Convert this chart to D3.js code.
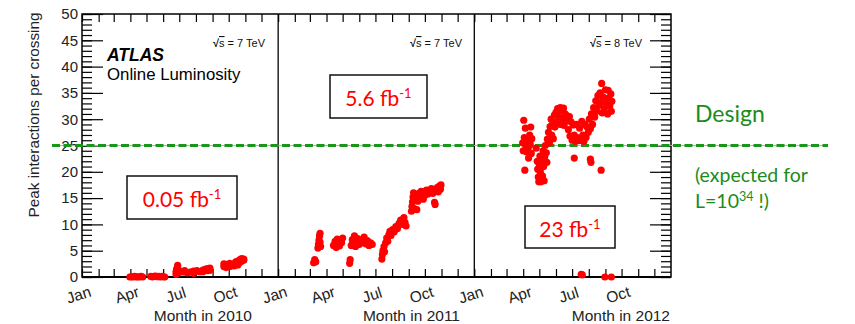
<!DOCTYPE html>
<html>
<head>
<meta charset="utf-8">
<script src="https://cdn.jsdelivr.net/npm/d3@7"></script>
<style>
  body { margin: 0; background: #fff; }
  svg { display: block; }
</style>
</head>
<body>
<div class="chart-area"></div>
<script>
// peak pile-up per bunch crossing, [day of year, value]
let data2010 = [
  [89,0],[92,0.05],[95,0],[98,0.1],[101,0],[104,0.05],[107,0],[110,0.1],[113,0],
  [128,0.1],[131,0],[134,0.1],[137,0.15],[140,0.05],[143,0.1],[146,0],[149,0.1],[152,0.05],[154,0],
  [175,0.5],[175,1.0],[176,1.5],[178,2.2],[178,1.8],[180,1.2],[180,0.8],[186,1.0],[191,0.9],[191,1.2],
  [197,0.8],[203,1.0],[208,1.1],[208,0.7],[214,1.2],[219,1.0],[225,1.3],[225,1.0],[230,1.5],[234,1.6],
  [234,1.2],[238,1.7],[238,1.3],
  [264,2.0],[264,2.5],[268,1.8],[268,2.4],[271,2.2],[275,2.0],[275,2.6],[279,2.3],[283,2.1],[286,2.6],
  [286,2.9],[290,3.0],[290,2.3],[294,3.3],[294,2.8],[297,3.5],[297,3.0],[301,3.2],[301,3.4]
];
let data2011 = [
  [66,2.7],[68,3.3],[70,2.9],
  [74,5.5],[75,6.2],[76,7.0],[77,7.8],[78,8.3],[78,6.6],[79,5.8],
  [103,6.0],[106,6.8],[108,5.6],[110,7.2],[112,6.4],[114,5.9],[116,7.0],[118,6.5],[120,7.4],
  [133,2.6],[134,3.3],
  [136,6.0],[138,7.1],[140,6.5],[142,7.8],[144,5.8],[146,6.8],[148,7.3],[151,6.2],[154,7.0],[157,6.6],
  [160,7.6],[163,6.3],[166,6.9],[169,6.0],[172,6.5],[175,6.2],
  [193,3.4],[194,4.3],[195,5.0],[197,5.8],[198,4.8],[200,6.5],[202,7.4],[204,6.8],[206,8.0],[208,8.7],
  [210,7.9],[213,9.0],[216,8.6],[219,9.6],[222,9.2],[225,10.2],[228,10.8],[231,10.0],[234,11.3],[236,10.4],[238,9.7],
  [248,12.5],[249,13.4],[250,14.3],[251,15.2],[252,16.0],[253,13.0],[255,14.8],[257,15.6],[258,12.8],[260,14.4],
  [262,15.9],[264,15.0],[266,16.3],[268,15.4],[270,14.8],[272,16.0],[274,15.6],[276,16.5],[279,15.8],[282,16.4],
  [285,16.8],[288,15.9],[291,14.2],[292,13.8],[294,16.5],[296,17.0],[298,16.2],[300,17.3],[302,16.7],[303,17.5]
];
let data2012 = [
  [90,25.5],[91,24.0],[92,29.8],[93,26.5],[94,20.3],[95,28.3],[96,25.0],[97,23.8],[99,26.0],[100,24.5],
  [101,22.6],[103,27.0],[104,25.2],[105,28.5],[106,23.5],[107,26.3],
  [115,24.5],[117,22.0],[118,20.5],[119,19.0],[120,18.1],[121,21.5],[122,23.0],[123,19.8],[124,18.1],[125,20.8],
  [126,22.2],[127,19.2],[128,24.0],[129,21.0],[130,18.3],[131,22.8],[132,25.0],[134,23.6],[135,21.8],
  [136,26.2],[138,27.5],[140,25.5],[141,28.6],[143,30.0],[144,27.0],[146,29.2],[147,26.3],[149,30.8],[150,28.5],
  [152,31.3],[153,29.5],
  [155,32.0],[157,30.5],[158,31.6],[160,32.2],[161,29.0],[163,31.8],[164,30.2],[166,32.1],[167,28.8],[169,31.0],
  [170,29.6],[172,30.7],
  [175,28.0],[177,30.5],[178,26.8],[180,29.5],[182,26.0],[184,28.9],[186,27.0],[188,25.8],[190,29.0],[192,26.5],
  [194,25.9],[196,28.3],[198,26.0],[200,29.6],[202,27.0],[204,25.8],[206,29.0],[208,26.5],[210,28.5],
  [186,22.6],[216,22.4],[217,21.8],[236,20.3],
  [212,27.5],[214,30.0],[216,28.2],[218,31.0],[220,29.0],[222,32.2],[224,30.4],[226,33.5],[228,31.5],[230,34.5],
  [232,32.6],[234,35.0],[236,33.2],[237,36.8],[238,31.2],[240,34.2],[242,32.0],[244,35.6],[246,33.0],[248,31.0],
  [249,35.5],[250,34.0],[252,32.5],[254,34.8],[255,31.5],[256,33.4],
  [199,0.5],[201,0.4],[243,0.0],[255,0.0]
];

let years = [2010, 2011, 2012];
let energies = ["7 TeV", "7 TeV", "8 TeV"];
let lumis = ["0.05", "5.6", "23"];
let designValue = 25;
let yMajorTicks = d3.range(0, 51, 5);
let yMinorTicks = d3.range(0, 51, 1);

let width = 855, height = 324;
let plotLeft = 82, plotRight = 671, plotTop = 14, plotBottom = 277;

let svg = d3.select('.chart-area').append('svg')
    .attr('width', width)
    .attr('height', height);

svg.append('rect').attr('width', width).attr('height', height).attr('fill', '#fff');

let xScale = d3.scaleTime()
    .domain([new Date(2010, 0, 1), new Date(2013, 0, 1)])
    .range([plotLeft, plotRight]);

let yScale = d3.scaleLinear()
    .domain([0, 50])
    .range([plotBottom, plotTop]);

let axisFont = "'Liberation Sans', Arial, sans-serif";
let noteFont = "Lato, 'Open Sans', sans-serif";

// y axis, major + minor ticks pointing into the frame
let yMajor = d3.axisLeft(yScale).tickValues(yMajorTicks).tickSize(-21).tickPadding(4);
let yMinor = d3.axisLeft(yScale).tickValues(yMinorTicks).tickSize(-10).tickFormat("");

let yaxis = svg.append('g').attr('transform', `translate(${plotLeft},0)`).call(yMajor);
svg.append('g').attr('transform', `translate(${plotLeft},0)`).call(yMinor);
yaxis.selectAll('text')
    .attr('font-family', axisFont)
    .attr('font-size', 15)
    .attr('fill', '#222');

svg.append('g').attr('transform', `translate(${plotRight},0)`)
    .call(d3.axisRight(yScale).tickValues(yMajorTicks).tickSize(-21).tickFormat(""));
svg.append('g').attr('transform', `translate(${plotRight},0)`)
    .call(d3.axisRight(yScale).tickValues(yMinorTicks).tickSize(-10).tickFormat(""));

// month ticks, top and bottom
let months = d3.timeMonth.range(new Date(2010, 0, 1), new Date(2013, 0, 1));
svg.append('g').attr('transform', `translate(0,${plotBottom})`)
    .call(d3.axisBottom(xScale).tickValues(months).tickSize(-8).tickFormat(""));
svg.append('g').attr('transform', `translate(0,${plotTop})`)
    .call(d3.axisTop(xScale).tickValues(months).tickSize(-8).tickFormat(""));

svg.selectAll('.domain').remove();
svg.selectAll('.tick line').attr('stroke', '#000').attr('stroke-width', 1.2);

// frame
svg.append('rect')
    .attr('x', plotLeft).attr('y', plotTop)
    .attr('width', plotRight - plotLeft).attr('height', plotBottom - plotTop)
    .attr('fill', 'none').attr('stroke', '#000').attr('stroke-width', 1.5);
svg.append('line')
    .attr('x1', plotLeft).attr('x2', plotRight).attr('y1', plotBottom).attr('y2', plotBottom)
    .attr('stroke', '#000').attr('stroke-width', 2.2);

// panel separators at each new year
svg.selectAll('line.sep')
    .data([new Date(2011, 0, 1), new Date(2012, 0, 1)])
    .enter()
    .append('line')
    .attr('class', 'sep')
    .attr('x1', d => xScale(d)).attr('x2', d => xScale(d))
    .attr('y1', plotTop).attr('y2', plotBottom)
    .attr('stroke', '#000').attr('stroke-width', 1.3);

// quarter labels, tilted
let quarters = d3.timeMonth.every(3).range(new Date(2010, 0, 1), new Date(2012, 11, 1));
let monthFormat = d3.timeFormat("%b");
svg.selectAll('text.month')
    .data(quarters)
    .enter()
    .append('text')
    .attr('class', 'month')
    .attr('transform', d => `translate(${xScale(d) - 3},296) rotate(-18)`)
    .attr('text-anchor', 'middle')
    .attr('dominant-baseline', 'middle')
    .attr('font-family', axisFont)
    .attr('font-size', 15.5)
    .attr('fill', '#222')
    .text(d => monthFormat(d));

// axis titles
let titleEnds = [252, 460, 670];
svg.selectAll('text.xtitle')
    .data(years)
    .enter()
    .append('text')
    .attr('class', 'xtitle')
    .attr('x', (d, i) => titleEnds[i])
    .attr('y', 321)
    .attr('text-anchor', 'end')
    .attr('font-family', axisFont)
    .attr('font-size', 15.5)
    .attr('fill', '#222')
    .text(d => "Month in " + d);

svg.append('text')
    .attr('transform', 'translate(35,115) rotate(-90)')
    .attr('text-anchor', 'middle')
    .attr('dominant-baseline', 'middle')
    .attr('font-family', axisFont)
    .attr('font-size', 15.3)
    .attr('fill', '#222')
    .text("Peak interactions per crossing");

// ATLAS label
svg.append('text')
    .attr('x', 107).attr('y', 61)
    .attr('font-family', axisFont)
    .attr('font-size', 17.5)
    .attr('font-weight', 'bold')
    .attr('font-style', 'italic')
    .text("ATLAS");
svg.append('text')
    .attr('x', 107).attr('y', 80)
    .attr('font-family', axisFont)
    .attr('font-size', 16.8)
    .text("Online Luminosity");

// sqrt(s) labels
let energyRight = [265, 462, 642];
years.forEach((yr, i) => {
  let t = svg.append('text')
      .attr('x', energyRight[i]).attr('y', 47)
      .attr('text-anchor', 'end')
      .attr('font-family', axisFont)
      .attr('font-size', 11)
      .attr('fill', '#111');
  t.append('tspan').attr('font-weight', 'bold').text("\u221A");
  t.append('tspan').attr('text-decoration', 'overline').text("s");
  t.append('tspan').text(" = " + energies[i]);
});

// green design line
let designY = yScale(designValue);
svg.append('line')
    .attr('x1', 52).attr('x2', 828).attr('y1', designY).attr('y2', designY)
    .attr('stroke', '#9fb6d6').attr('stroke-width', 1);
svg.append('line')
    .attr('x1', 52).attr('x2', 828).attr('y1', designY).attr('y2', designY)
    .attr('stroke', '#1a961a').attr('stroke-width', 3)
    .attr('stroke-dasharray', '8,3.5');

// data points
let allData = [data2010, data2011, data2012];
allData.forEach((arr, i) => {
  let start = new Date(years[i], 0, 1);
  svg.append('g').selectAll('circle')
      .data(arr)
      .enter()
      .append('circle')
      .attr('cx', d => xScale(d3.timeDay.offset(start, d[0])))
      .attr('cy', d => yScale(d[1]))
      .attr('r', 3.6)
      .attr('fill', '#ff0000');
});

// integrated luminosity boxes
let boxes = [
  {x: 127, y: 176, w: 110, h: 43},
  {x: 330, y: 75, w: 97, h: 43},
  {x: 525, y: 206, w: 90, h: 42}
];
boxes.forEach((b, i) => {
  svg.append('rect')
      .attr('x', b.x).attr('y', b.y).attr('width', b.w).attr('height', b.h)
      .attr('fill', '#fff').attr('stroke', '#111').attr('stroke-width', 1.5);
  let t = svg.append('text')
      .attr('x', b.x + b.w / 2).attr('y', b.y + 31)
      .attr('text-anchor', 'middle')
      .attr('font-family', noteFont)
      .attr('font-size', 21)
      .attr('fill', '#ff0000');
  t.append('tspan').text(lumis[i] + " fb");
  t.append('tspan').attr('font-size', 13).attr('dy', -8).text("-1");
});

// design annotation
let green = '#1a8c1a';
svg.append('text')
    .attr('x', 695).attr('y', 122)
    .attr('font-family', noteFont).attr('font-size', 23)
    .attr('fill', green)
    .text("Design");
svg.append('text')
    .attr('x', 695).attr('y', 182)
    .attr('font-family', noteFont).attr('font-size', 19.5)
    .attr('fill', green)
    .text("(expected for");
let lt = svg.append('text')
    .attr('x', 695).attr('y', 208)
    .attr('font-family', noteFont).attr('font-size', 19.5)
    .attr('fill', green);
lt.append('tspan').text("L=10");
lt.append('tspan').attr('font-size', 12.5).attr('dy', -7).text("34");
lt.append('tspan').attr('dy', 7).text(" !)");
</script>
</body>
</html>
